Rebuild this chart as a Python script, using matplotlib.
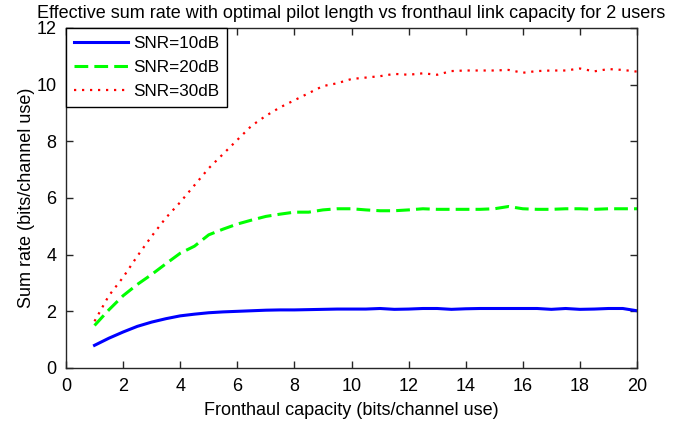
import numpy as np
import matplotlib.pyplot as plt

# --------------------------
# Data
# --------------------------
capacity = np.arange(1, 20.5, 0.5)

rate_10db = [0.80, 1.05, 1.27, 1.47, 1.62, 1.74, 1.84, 1.90, 1.95, 1.98,
             2.00, 2.02, 2.04, 2.05, 2.05, 2.06, 2.07, 2.08, 2.08, 2.08,
             2.10, 2.07, 2.08, 2.10, 2.10, 2.07, 2.09, 2.10, 2.10, 2.10,
             2.10, 2.10, 2.07, 2.10, 2.07, 2.08, 2.10, 2.10, 2.02]

rate_20db = [1.50, 2.05, 2.55, 2.95, 3.30, 3.68, 4.05, 4.30, 4.70, 4.90,
             5.08, 5.22, 5.35, 5.43, 5.50, 5.50, 5.58, 5.62, 5.62, 5.58,
             5.55, 5.55, 5.58, 5.62, 5.60, 5.60, 5.60, 5.60, 5.62, 5.70,
             5.62, 5.60, 5.60, 5.62, 5.62, 5.60, 5.62, 5.62, 5.62]

rate_30db = [1.65, 2.55, 3.20, 3.95, 4.65, 5.30, 5.85, 6.45, 7.05, 7.55,
             8.05, 8.55, 8.90, 9.20, 9.45, 9.70, 9.95, 10.05, 10.20, 10.25,
             10.30, 10.38, 10.35, 10.40, 10.35, 10.48, 10.50, 10.50, 10.50, 10.52,
             10.42, 10.48, 10.50, 10.50, 10.57, 10.47, 10.55, 10.52, 10.46]

labels = ['SNR=10dB', 'SNR=20dB', 'SNR=30dB']

plt.rcParams['font.family'] = ['Liberation Sans Narrow', 'Liberation Sans', 'DejaVu Sans']
plt.rcParams['font.size'] = 13

# --------------------------
# Plot
# --------------------------
fig = plt.figure(figsize=(6.83, 4.21), dpi=100)
ax = fig.add_axes([0.0966, 0.1259, 0.8361, 0.8076])

ax.plot(capacity, rate_10db, color='#0000ff', lw=2.2, label=labels[0])
ax.plot(capacity, rate_20db, color='#00ff00', lw=2.2, dashes=(4.5, 2.0),
        label=labels[1])
ax.plot(capacity, rate_30db, color='#ff0000', lw=1.6, dashes=(1.0, 2.6),
        label=labels[2])

ax.set_xlim(0, 20)
ax.set_ylim(0, 12)
ax.set_xticks(np.arange(0, 21, 2))
ax.set_yticks(np.arange(0, 13, 2))
ax.tick_params(direction='in', length=5, width=1, top=True, right=True,
               colors='#262626', labelcolor='black', pad=7)
for s in ax.spines.values():
    s.set_color('#262626')
    s.set_linewidth(1)

ax.set_title('Effective sum rate with optimal pilot length vs fronthaul link capacity for 2 users',
             fontsize=13, pad=7)
ax.set_xlabel('Fronthaul capacity (bits/channel use)', labelpad=5)
ax.set_ylabel('Sum rate (bits/channel use)', labelpad=1)

leg = ax.legend(loc='upper left', borderaxespad=0, fancybox=False,
                framealpha=1, edgecolor='black', handlelength=3.2,
                handletextpad=0.3, labelspacing=0.55, borderpad=0.45,
                fontsize=12.3)
leg.get_frame().set_linewidth(1)

fig.savefig('out.png', dpi=100)
